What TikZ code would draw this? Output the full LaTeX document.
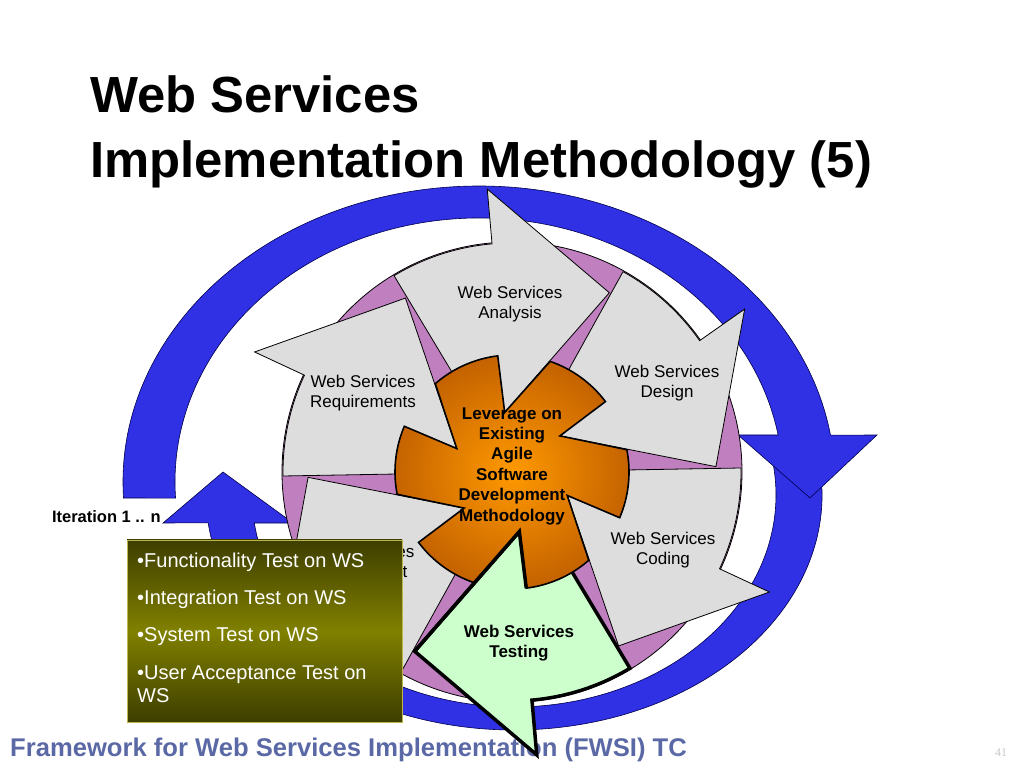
\documentclass[tikz,border=0pt]{standalone}
\usepackage{fontspec}
\setmainfont{Liberation Sans}
\newfontfamily\numfont{Liberation Serif}
\usepackage{tikz}
\usetikzlibrary{positioning}
\definecolor{ringblue}{RGB}{48,48,228}
\definecolor{discpurple}{RGB}{192,128,192}
\definecolor{bladegray}{RGB}{221,221,221}
\definecolor{testgreen}{RGB}{204,255,204}
\definecolor{gearlight}{RGB}{255,153,0}
\definecolor{geardark}{RGB}{196,98,0}
\definecolor{olivedark}{RGB}{62,62,0}
\definecolor{olivemid}{RGB}{128,128,0}
\definecolor{footblue}{RGB}{90,105,165}
\tikzset{
    ring/.style={fill=ringblue, draw=blue!30!black, line width=0.6pt},
    disc/.style={fill=discpurple, draw=black, line width=0.8pt},
    blade/.style={fill=bladegray, draw=black, line width=0.8pt},
    hblade/.style={fill=testgreen, draw=black, line width=3.5pt},
    hedge/.style={draw=black, line width=3.5pt},
    gear/.style={inner color=gearlight, outer color=geardark, draw=black, line width=1.6pt},
    bladetext/.style={align=center, font=\fontsize{17}{20.5}\selectfont},
    geartext/.style={align=center, font=\bfseries\fontsize{17}{20.4}\selectfont},
    testbox/.style={top color=olivedark, bottom color=olivedark, middle color=olivemid, draw=olive!60!white, line width=0.6pt},
    boxtext/.style={anchor=base west, text=white, inner sep=0pt, font=\fontsize{20}{24}\selectfont},
}

\begin{document}
\begin{tikzpicture}[x=1pt, y=1pt]
\useasboundingbox (0,0) rectangle (1024,768);

% title and footer
\node[anchor=base west, inner sep=0pt, font=\bfseries\fontsize{50.8}{60}\selectfont] (title1) at (90,655) {Web Services};
\node[anchor=base west, inner sep=0pt, font=\bfseries\fontsize{50.8}{60}\selectfont] (title2) at (90,590) {Implementation Methodology (5)};
\node[anchor=base west, inner sep=0pt, text=footblue, font=\bfseries\fontsize{25.6}{30}\selectfont] (footer) at (10,12) {Framework for Web Services Implementation (FWSI) TC};
\node[anchor=base, inner sep=0pt, text=black!22, font=\numfont\fontsize{12}{14}\selectfont] (pagenum) at (1001,12) {41};

% lower iteration arrow
\begin{scope}[shift={(514,273)}]
    \draw[ring] (10:308 and 235) arc[start angle=10, end angle=-173.2, x radius=308, y radius=235]
        -- (-351,-28) -- (-291,23) -- (-221,-28)
        -- (-172.4:262 and 212) arc[start angle=-172.4, end angle=10.5, x radius=262, y radius=212] -- cycle;
\end{scope}

% upper iteration arrow
\begin{scope}[shift={(479,286)}]
    \draw[ring] (183.1:356 and 296) arc[start angle=183.1, end angle=9.1, x radius=356, y radius=296]
        -- (398,47) -- (331,-16) -- (259,47)
        -- (10.26:304 and 264) arc[start angle=10.26, end angle=183.5, x radius=304, y radius=264] -- cycle;
\end{scope}

\node[anchor=base east, inner sep=0pt, font=\bfseries\fontsize{16.5}{20}\selectfont] (iter) at (161,245) {Iteration 1 .. n};

% cycle of phases
\begin{scope}[shift={(512,296)}]
    \draw[disc] (0,0) circle[radius=230];
    \foreach \p/\phase/\txtpos [count=\i] in {0/Coding/{151,-78}, 60/Design/{155,89}, 120/Analysis/{-2,168}, 180/Requirements/{-149,79}, 240/Deployment/{-150,-91}} {
        \draw[blade] (\p-23:60) -- (\p+1:100) -- (\p+1:229)
            arc[start angle=\p+1, end angle=\p-25, radius=229]
            -- (\p-25:284) -- (\p-58.5:204) -- cycle;
        \node[bladetext] (phase\i) at (\txtpos) {Web Services\\\phase};
    }
    % highlighted phase
    \draw[hblade] (-83:60) -- (-59:100) -- (-59:229)
        arc[start angle=-59, end angle=-85, radius=229]
        -- (-85:284) -- (-118.5:204) -- cycle;
    % centre
    \draw[gear] (-23:60)
        \foreach \p [evaluate=\p as \s using \p-23, evaluate=\p as \e using \p+11, evaluate=\p as \n using \p+37] in {0,60,...,300} {
            -- (\s:117) arc[start angle=\s, end angle=\e, radius=117] -- (\n:60)
        } -- cycle;
    \draw[hedge] (-118.5:204) -- (-83:60) -- (-83:117);
    \node[geartext] (agile) at (0,6) {Leverage on\\Existing\\Agile\\Software\\Development\\Methodology};
    \node[geartext] (testing) at (7,-171) {Web Services\\Testing};
\end{scope}

% test activities
\path[testbox] (127,46) rectangle (402,228);
\node[boxtext] (func) at (137,200.3) {\textbullet Functionality Test on WS};
\node[boxtext] (integ) at (137,164) {\textbullet Integration Test on WS};
\node[boxtext] (sys) at (137,126.3) {\textbullet System Test on WS};
\node[boxtext] (uat) at (137,89) {\textbullet User Acceptance Test on};
\node[boxtext] (uat2) at (137,65.3) {WS};
\end{tikzpicture}
\end{document}
